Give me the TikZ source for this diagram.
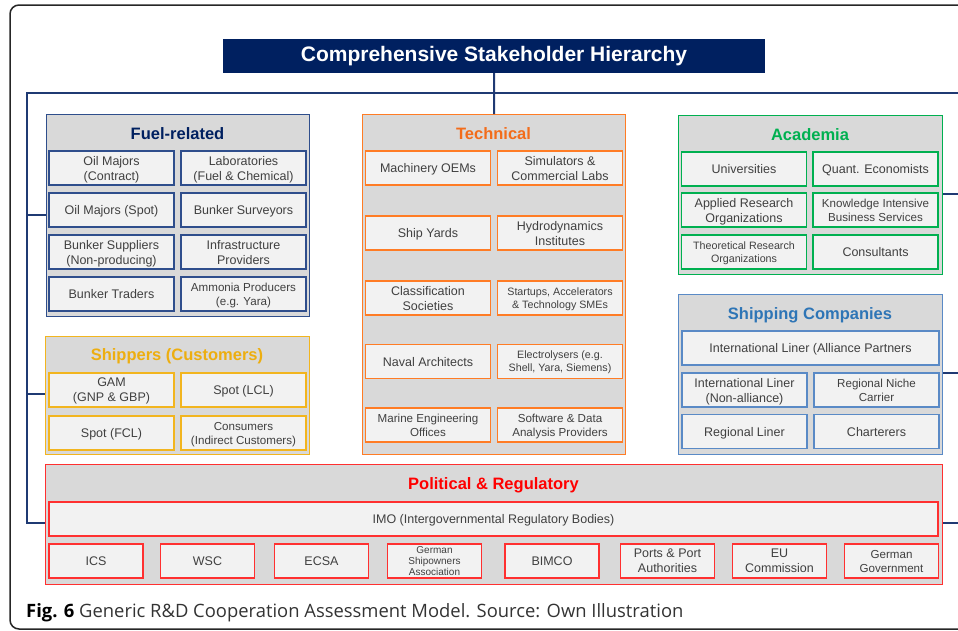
\documentclass[tikz,border=0pt]{standalone}
\usepackage{fontspec}
\setmainfont{Liberation Sans}
\newfontfamily\capfont{Open Sans}
\definecolor{navy}{HTML}{002060}
\definecolor{treeblue}{HTML}{1F3A73}
\definecolor{fuelb}{HTML}{2F4E8C}
\definecolor{orng}{HTML}{FF7C25}
\definecolor{orngt}{HTML}{F36C1A}
\definecolor{grn}{HTML}{00B050}
\definecolor{gold}{HTML}{F2B51F}
\definecolor{goldt}{HTML}{EDAE10}
\definecolor{shipb}{HTML}{5A8AC6}
\definecolor{shipt}{HTML}{2E75B6}
\definecolor{rd}{HTML}{FF3030}
\definecolor{rdt}{HTML}{FF0000}
\definecolor{grpfill}{HTML}{D9D9D9}
\definecolor{itfill}{HTML}{F2F2F2}
\definecolor{txt}{HTML}{404040}
\begin{document}
\begin{tikzpicture}[x=1pt,y=-1pt,
  grp/.style={draw, fill=grpfill, line width=1.3pt, anchor=north west, inner sep=0pt},
  gtitle/.style={font=\fontsize{16.5}{18}\selectfont\bfseries, inner sep=0pt},
  item/.style={draw, fill=itfill, line width=1.3pt, minimum width=125pt, minimum height=34pt, inner sep=1pt, text depth=0pt, align=center, text=txt, font=\fontsize{12.5}{15}\selectfont},
  sm/.style={font=\fontsize{11.6}{14}\selectfont},
  xs/.style={font=\fontsize{10.7}{13}\selectfont},
  xxs/.style={font=\fontsize{10}{11}\selectfont},
  bot/.style={minimum width=94pt},
  tree/.style={draw=treeblue, line width=2pt}
]
\useasboundingbox (0,0) rectangle (958,630);
% outer frame
\draw[line width=1.5pt, color=black!85, rounded corners=9pt] (975,5) -- (10,5) -- (10,629) -- (975,629);

% title
\node[fill=navy, minimum width=542pt, minimum height=34pt, text=white, font=\fontsize{21}{24}\selectfont\bfseries, inner sep=0pt] (title) at (494,56) {Comprehensive Stakeholder Hierarchy};

% groups
\node[grp, draw=fuelb, minimum width=263pt, minimum height=202pt] (fuel) at (46,114) {};
\node[grp, draw=orng, minimum width=263pt, minimum height=340pt] (tech) at (362,114) {};
\node[grp, draw=grn, minimum width=264pt, minimum height=159pt] (acad) at (678,115) {};
\node[grp, draw=shipb, minimum width=264pt, minimum height=160pt] (ship) at (678,294) {};
\node[grp, draw=gold, minimum width=264pt, minimum height=118pt] (shipr) at (45,336) {};
\node[grp, draw=rd, minimum width=897pt, minimum height=120pt] (pol) at (45,464) {};

% tree
\coordinate (hl) at (27,93);
\coordinate (hr) at (958,93);
\coordinate (bl) at (27,523);
\coordinate (r1) at (958,194);
\coordinate (r2) at (958,373);
\coordinate (r3) at (958,523);
\draw[tree] (title.south) -- (tech.north);
\draw[tree] (hr) -- (hl) -- (bl) -- (bl -| pol.west);
\draw[tree] (hl |- 0,215) -- (fuel.west |- 0,215);
\draw[tree] (hl |- 0,394) -- (shipr.west |- 0,394);
\draw[tree] (acad.east |- r1) -- (r1);
\draw[tree] (ship.east |- r2) -- (r2);
\draw[tree] (pol.east |- r3) -- (r3);

% Fuel-related
\node[gtitle, text=navy] (fuelt) at (177.5,134) {Fuel-related};
\begin{scope}[every node/.append style={item, draw=fuelb}]
\node (f1) at (111.5,168) {Oil Majors\\(Contract)};
\node (f2) at (243.5,168) {Laboratories\\(Fuel \& Chemical)};
\node (f3) at (111.5,210) {Oil Majors (Spot)};
\node (f4) at (243.5,210) {Bunker Surveyors};
\node (f5) at (111.5,252) {Bunker Suppliers\\(Non-producing)};
\node (f6) at (243.5,252) {Infrastructure\\Providers};
\node (f7) at (111.5,294) {Bunker Traders};
\node[sm] (f8) at (243.5,294) {Ammonia Producers\\(e.g. Yara)};
\end{scope}

% Technical
\node[gtitle, text=orngt] (techt) at (493.5,134) {Technical};
\begin{scope}[every node/.append style={item, draw=orng}]
\node (t1) at (428,168) {Machinery OEMs};
\node (t2) at (560,168) {Simulators \&\\Commercial Labs};
\node (t3) at (428,233) {Ship Yards};
\node (t4) at (560,233) {Hydrodynamics\\Institutes};
\node (t5) at (428,298) {Classification\\Societies};
\node[xs] (t6) at (560,298) {Startups, Accelerators\\\& Technology SMEs};
\node (t7) at (428,361.5) {Naval Architects};
\node[xs] (t8) at (560,361.5) {Electrolysers (e.g.\\Shell, Yara, Siemens)};
\node[sm] (t9) at (428,425) {Marine Engineering\\Offices};
\node[sm] (t10) at (560,425) {Software \& Data\\Analysis Providers};
\end{scope}

% Academia
\node[gtitle, text=grn] (acadt) at (810,135) {Academia};
\begin{scope}[every node/.append style={item, draw=grn}]
\node (a1) at (744,169) {Universities};
\node (a2) at (875.5,169) {Quant. Economists};
\node (a3) at (744,210) {Applied Research\\Organizations};
\node[sm] (a4) at (875.5,210) {Knowledge Intensive\\Business Services};
\node[xs] (a5) at (744,252) {Theoretical Research\\Organizations};
\node (a6) at (875.5,252) {Consultants};
\end{scope}

% Shipping Companies
\node[gtitle, text=shipt] (shipt) at (810,315) {Shipping Companies};
\begin{scope}[every node/.append style={item, draw=shipb}]
\node[minimum width=257pt] (s1) at (810.5,348) {International Liner (Alliance Partners};
\node (s2) at (744.5,390) {International Liner\\(Non-alliance)};
\node[sm] (s3) at (876.5,390) {Regional Niche\\Carrier};
\node (s4) at (744.5,431.5) {Regional Liner};
\node (s5) at (876.5,431.5) {Charterers};
\end{scope}

% Shippers
\node[gtitle, text=goldt] (shiprt) at (177,356) {Shippers (Customers)};
\begin{scope}[every node/.append style={item, draw=gold}]
\node (c1) at (111.5,390) {GAM\\(GNP \& GBP)};
\node (c2) at (243.5,390) {Spot (LCL)};
\node (c3) at (111.5,433) {Spot (FCL)};
\node[sm] (c4) at (243.5,433) {Consumers\\(Indirect Customers)};
\end{scope}

% Political & Regulatory
\node[gtitle, text=rdt] (polt) at (493.5,485) {Political \& Regulatory};
\begin{scope}[every node/.append style={item, draw=rd}]
\node[minimum width=889pt] (imo) at (493.5,519) {IMO (Intergovernmental Regulatory Bodies)};
\node[bot] (p1) at (96,561) {ICS};
\node[bot] (p2) at (207.5,561) {WSC};
\node[bot] (p3) at (321.5,561) {ECSA};
\node[bot, xxs] (p4) at (434.5,561) {German\\Shipowners\\Association};
\node[bot] (p5) at (552,561) {BIMCO};
\node[bot] (p6) at (667.5,561) {Ports \& Port\\Authorities};
\node[bot] (p7) at (779.5,561) {EU\\Commission};
\node[bot, sm] (p8) at (891.5,561) {German\\Government};
\end{scope}

% caption
\node[anchor=base west, inner sep=0pt, font=\capfont\fontsize{18.4}{20}\selectfont, text=black!80] (cap) at (26,617) {\textbf{\color{black}Fig. 6} Generic R\&D Cooperation Assessment Model. Source: Own Illustration};
\end{tikzpicture}
\end{document}
